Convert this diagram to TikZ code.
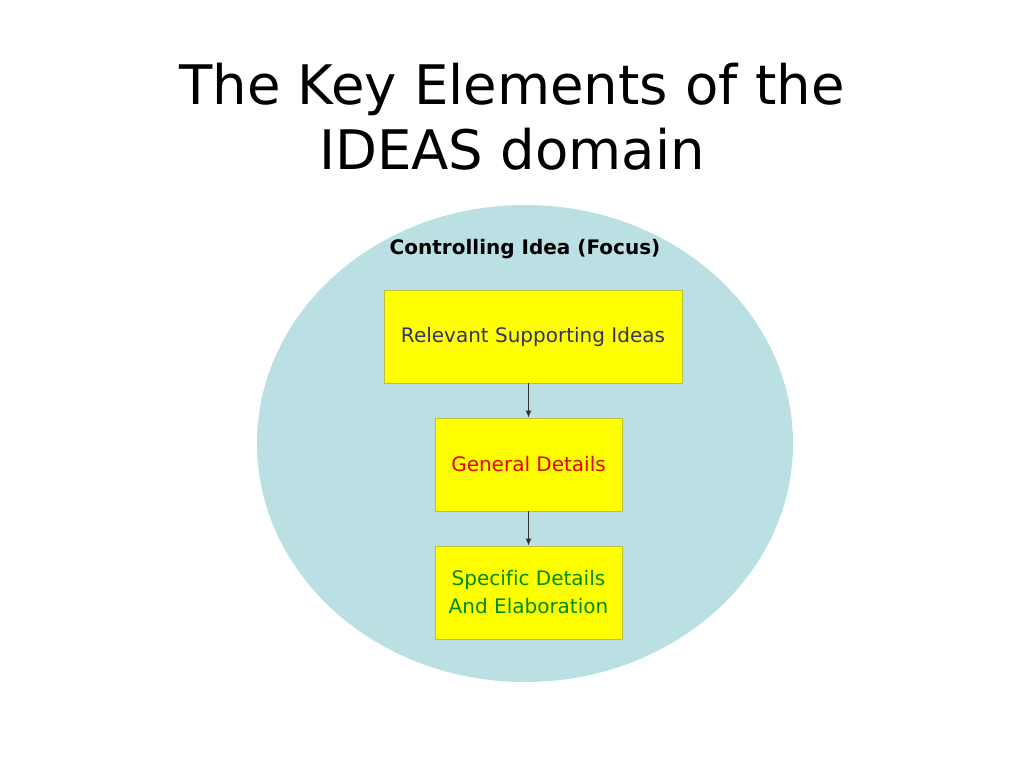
\documentclass[tikz,border=0pt]{standalone}
\usepackage{fontspec}
\setmainfont[Ligatures={NoCommon}]{DejaVu Sans}
\usetikzlibrary{arrows.meta,shapes.geometric}
\definecolor{bgblue}{RGB}{186,224,228}
\definecolor{boxyellow}{RGB}{255,255,0}
\definecolor{boxedge}{RGB}{190,190,60}
\definecolor{slatetext}{RGB}{51,51,102}
\definecolor{redtext}{RGB}{230,0,0}
\definecolor{greentext}{RGB}{0,140,0}
\tikzset{
  ybox/.style={draw=boxedge, line width=0.8pt, fill=boxyellow, inner sep=0pt, align=center, font=\fontsize{20}{28}\selectfont},
  conn/.style={draw=black!80, line width=1pt, -{Latex[length=7pt,width=6pt]}}
}
\begin{document}
\begin{tikzpicture}[x=1pt,y=-1pt]
\useasboundingbox (0,0) rectangle (1024,768);
\fill[white] (0,0) rectangle (1024,768);
\node[ellipse, fill=bgblue, minimum width=536pt, minimum height=477pt, inner sep=0pt] (circ) at (525,443.5) {};
\node[font=\fontsize{54.5}{65}\selectfont, align=center] (title) at (512,117) {The Key Elements of the\\IDEAS domain};
\node[font=\bfseries\fontsize{20}{24}\selectfont] (focus) at (525,249) {Controlling Idea (Focus)};
\node[ybox, minimum width=298pt, minimum height=93pt, text=slatetext] (b1) at (533,336.5) {Relevant Supporting Ideas};
\node[ybox, minimum width=187pt, minimum height=93pt, text=redtext] (b2) at (528.5,464.5) {General Details};
\node[ybox, minimum width=187pt, minimum height=93pt, text=greentext] (b3) at (528.5,592.5) {Specific Details\\And Elaboration};
\draw[conn] (b1.south -| b2) -- (b2.north);
\draw[conn] (b2.south) -- (b3.north);
\end{tikzpicture}
\end{document}
